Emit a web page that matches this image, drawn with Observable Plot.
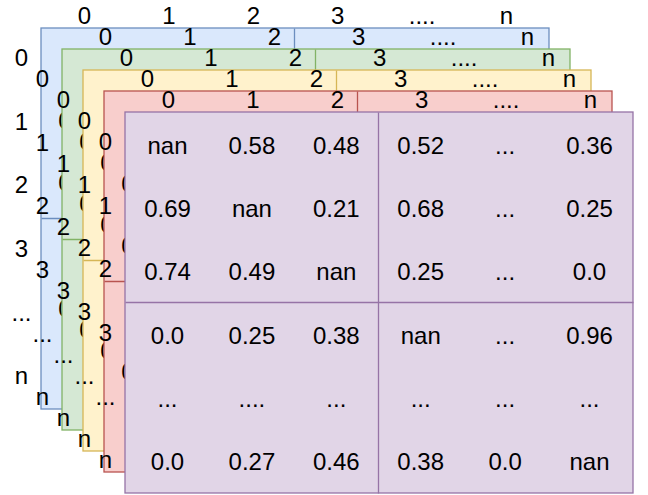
<!DOCTYPE html>
<html>
<head>
<meta charset="utf-8">
<script src="https://cdn.jsdelivr.net/npm/d3@7"></script>
<script src="https://cdn.jsdelivr.net/npm/@observablehq/plot@0.6"></script>
<style>
  html, body { margin: 0; padding: 0; background: #fff; }
  #chart svg { display: block; }
</style>
</head>
<body>
<div id="chart"></div>
<script>
// ---- data ----
const layerFill   = ["#dae8fc", "#d5e8d4", "#fff2cc", "#f8cecc", "#e1d5e7"];
const layerStroke = ["#6c8ebf", "#82b366", "#d6b656", "#b85450", "#9673a6"];
const colLabels = ["0", "1", "2", "3", "....", "n"];
const rowLabels = ["0", "1", "2", "3", "...", "n"];
const cellRows = [
  ["nan", "0.58", "0.48", "0.52", "...", "0.36"],
  ["0.69", "nan", "0.21", "0.68", "...", "0.25"],
  ["0.74", "0.49", "nan", "0.25", "...", "0.0"],
  ["0.0", "0.25", "0.38", "nan", "...", "0.96"],
  ["...", "....", "...", "...", "...", "..."],
  ["0.0", "0.27", "0.46", "0.38", "0.0", "nan"]
];
const hiddenGlyph = "0";

// ---- layout ----
const W = 648, H = 495;
const step = 21;                       // offset between stacked layers
const L = {x0: 41, y0: 28, w: 508, h: 381, splitX: 253, splitY: 190};
const colStep = 84.4, rowStep = 63.3;
const hiddenY = [121, 183, 309];
const FS = 24;
const font = "'Liberation Sans', Arial, Helvetica, sans-serif";

const marks = [];
const textOpts = {fontSize: FS, fill: "#000", fontFamily: font};

function headerLabels(h) {
  const d = colLabels.map((t, j) => ({t, x: 84 + step * h + colStep * j, y: 16 + step * h}));
  return Plot.text(d, {x: "x", y: "y", text: "t", ...textOpts});
}
function sideLabels(h) {
  const d = rowLabels.map((t, i) => ({t, x: 21 + step * h, y: 58 + step * h + 63.6 * i}));
  return Plot.text(d, {x: "x", y: "y", text: "t", ...textOpts});
}

marks.push(headerLabels(0), sideLabels(0));

for (let k = 0; k < layerFill.length; k++) {
  const x1 = L.x0 + step * k, y1 = L.y0 + step * k;
  const r = {x1, y1, x2: x1 + L.w, y2: y1 + L.h};
  marks.push(Plot.rect([r], {x1: "x1", x2: "x2", y1: "y1", y2: "y2",
    fill: layerFill[k], stroke: layerStroke[k], strokeWidth: 1.3}));
  const dividers = [
    {x1: x1 + L.splitX, y1: y1, x2: x1 + L.splitX, y2: y1 + L.h},
    {x1: x1, y1: y1 + L.splitY, x2: x1 + L.w, y2: y1 + L.splitY}
  ];
  marks.push(Plot.link(dividers, {x1: "x1", y1: "y1", x2: "x2", y2: "y2",
    stroke: layerStroke[k], strokeWidth: 1.3}));
  if (k < layerFill.length - 1) {
    // glyphs of this layer that the next layer mostly covers
    const hd = hiddenY.map(y => ({t: hiddenGlyph, x: 64.5 + step * k, y: y + step * k}));
    marks.push(Plot.text(hd, {x: "x", y: "y", text: "t", ...textOpts}));
    marks.push(headerLabels(k + 1), sideLabels(k + 1));
  } else {
    const cells = [];
    cellRows.forEach((row, i) => row.forEach((t, j) => cells.push({
      t, x: x1 + 42 + colStep * j, y: y1 + 33.5 + rowStep * i
    })));
    marks.push(Plot.text(cells, {x: "x", y: "y", text: "t", ...textOpts}));
  }
}

const chart = Plot.plot({
  width: W, height: H,
  margin: 0, marginTop: 0, marginRight: 0, marginBottom: 0, marginLeft: 0,
  x: {domain: [0, W], range: [0, W], axis: null},
  y: {domain: [0, H], range: [0, H], axis: null},
  style: {fontFamily: font, background: "#fff"},
  marks
});
document.getElementById("chart").appendChild(chart);
</script>
</body>
</html>
